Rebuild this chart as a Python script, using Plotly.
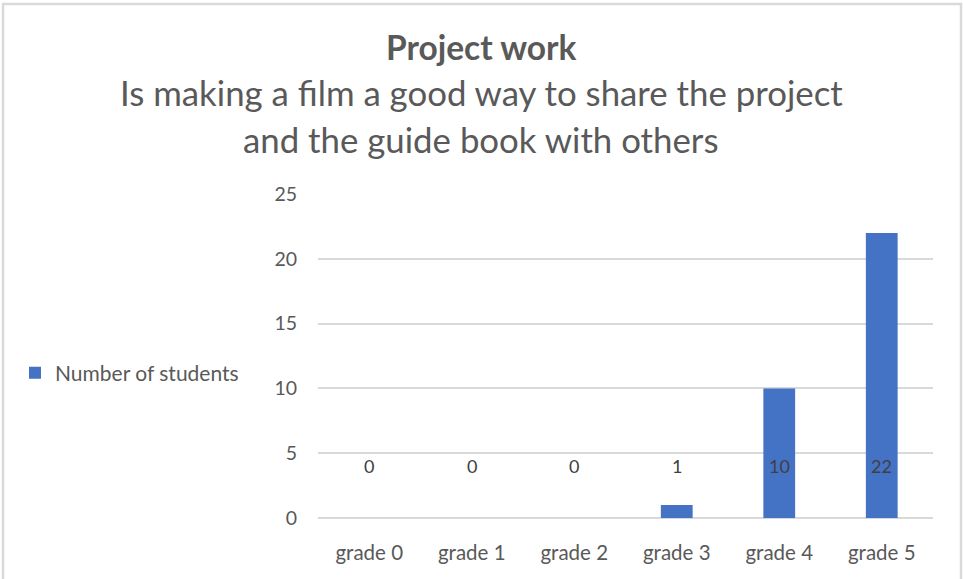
import plotly.graph_objects as go

categories = ["grade 0", "grade 1", "grade 2", "grade 3", "grade 4", "grade 5"]
students = [0, 0, 0, 1, 10, 22]
y_ticks = [0, 5, 10, 15, 20, 25]

FONT = "Lato"
GRAY = "#595959"
BLUE = "#4472C4"

fig = go.Figure()
fig.add_trace(go.Bar(
    x=categories, y=students, name="Number of students",
    marker=dict(color=BLUE, line=dict(width=0)),
    width=0.31, showlegend=True,
))

# data labels at inside-base position
for c, v in zip(categories, students):
    fig.add_annotation(x=c, y=4, text=str(v), showarrow=False,
                       font=dict(family=FONT, size=18, color="#404040"),
                       xref="x", yref="y", yanchor="middle")

L, R, T, B = 318, 30, 194, 61
W, H = 963, 579
pw, ph = W - L - R, H - T - B

def px(x):
    return (x - L) / pw

def py(y):
    return (H - B - y) / ph

# titles
fig.add_annotation(x=px(481), y=py(47), xref="paper", yref="paper", showarrow=False,
                   text="<b>Project work</b>", font=dict(family=FONT, size=33.5, color=GRAY),
                   yanchor="middle", xanchor="center")
fig.add_annotation(x=px(481), y=py(93), xref="paper", yref="paper", showarrow=False,
                   text="Is making a film a good way to share the project", font=dict(family=FONT, size=34.8, color=GRAY),
                   yanchor="middle", xanchor="center")
fig.add_annotation(x=px(481), y=py(140), xref="paper", yref="paper", showarrow=False,
                   text="and the guide book with others", font=dict(family=FONT, size=34.8, color=GRAY),
                   yanchor="middle", xanchor="center")

# chart border
fig.add_shape(type="rect", xref="paper", yref="paper",
              x0=px(3), x1=px(961), y0=py(4), y1=py(600),
              line=dict(color="#D9D9D9", width=2.5), fillcolor="rgba(0,0,0,0)", layer="below")

fig.update_layout(
    width=W, height=H,
    margin=dict(l=L, r=R, t=T, b=B, pad=0),
    paper_bgcolor="white", plot_bgcolor="white",
    font=dict(family=FONT, color=GRAY),
    showlegend=True,
    legend=dict(x=px(15), y=py(373), xanchor="left", yanchor="middle",
                font=dict(family=FONT, size=21, color=GRAY), bgcolor="rgba(0,0,0,0)"),
    xaxis=dict(showgrid=False, showline=False, ticks="", ticklabelstandoff=20,
               tickfont=dict(family=FONT, size=20.5, color=GRAY)),
    yaxis=dict(range=[0, 25], tickvals=y_ticks, showgrid=True, gridcolor="#D9D9D9", gridwidth=1.5,
               zeroline=True, zerolinecolor="#D9D9D9", zerolinewidth=1.5,
               ticks="", ticklabelstandoff=20,
               tickfont=dict(family=FONT, size=19.5, color=GRAY)),
    bargap=0.69,
)

fig.write_html("out.html", config={"displayModeBar": False},
               post_script="document.body.style.margin='0';")
